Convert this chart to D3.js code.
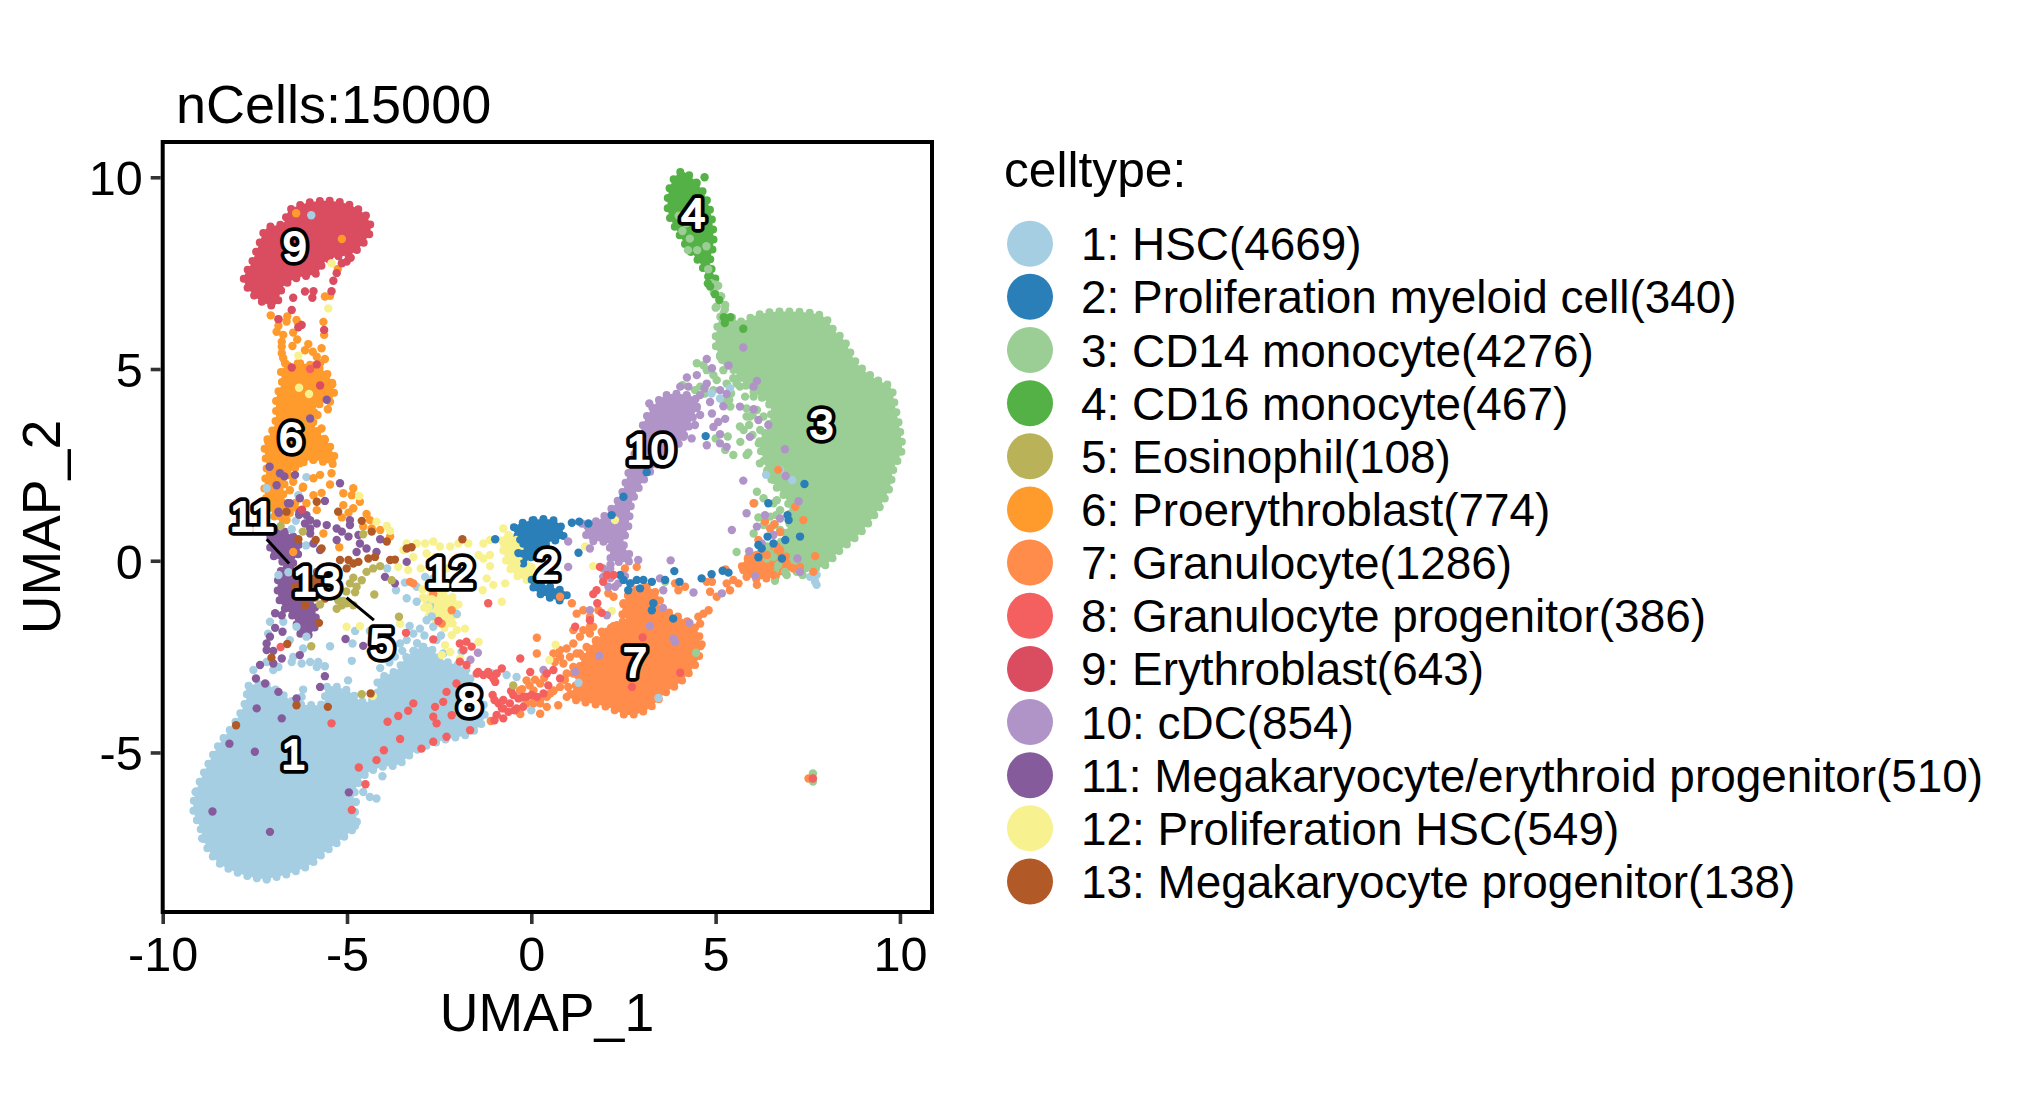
<!DOCTYPE html>
<html><head><meta charset="utf-8">
<script src="https://cdnjs.cloudflare.com/ajax/libs/d3/7.8.5/d3.min.js"></script>
<style>html,body{margin:0;background:#fff}svg{display:block}text{font-family:"Liberation Sans",Arial,sans-serif;fill:#000}</style>
</head><body><svg id="c" width="2028" height="1120"></svg>
<script>
// ---------- categories ----------
const cellNames = ["HSC","Proliferation myeloid cell","CD14 monocyte","CD16 monocyte","Eosinophil","Proerythroblast","Granulocyte","Granulocyte progenitor","Erythroblast","cDC","Megakaryocyte/erythroid progenitor","Proliferation HSC","Megakaryocyte progenitor"];
const cellCounts = [4669,340,4276,467,108,774,1286,386,643,854,510,549,138];
const cellColors = ["#A6CEE3","#2A7FB8","#9ACE95","#54B145","#B9B258","#FF9A2C","#FF8C4B","#F45F60","#DA4C5F","#B094C8","#855B9C","#F8F18F","#B15A28"];
const xTicks = [-10,-5,0,5,10];
const yTicks = [-5,0,5,10];
const xDomain = [-10,10.87];
const yDomain = [-9.16,10.92];

// ---------- dense regions: outlines, in UMAP units ----------
const hscRegion = [[-7.72,-3.29],[-7.18,-3.24],[-6.73,-3.5],[-6.37,-3.72],[-6,-3.76],[-5.64,-3.72],[-5.55,-3.29],[-5.01,-3.37],[-4.56,-3.68],[-4.2,-3.55],[-4.15,-3.11],[-3.65,-2.85],[-3.38,-2.5],[-2.84,-2.24],[-2.39,-2.59],[-1.75,-2.85],[-1.57,-3.37],[-1.3,-3.72],[-1.3,-4.16],[-1.66,-4.5],[-2.39,-4.68],[-3.11,-4.94],[-3.65,-5.33],[-4.01,-5.37],[-4.47,-5.55],[-4.74,-5.9],[-4.83,-6.33],[-4.74,-6.85],[-5.19,-7.29],[-5.64,-7.63],[-6.1,-7.98],[-7.18,-8.29],[-7.63,-8.24],[-8.45,-7.9],[-8.81,-7.46],[-8.99,-6.94],[-9.17,-6.5],[-9.08,-5.98],[-8.76,-5.29],[-8.45,-4.76],[-8,-4.16],[-7.72,-3.55]];
const mono14Region = [[5.03,6.02],[5.21,6.45],[5.66,6.24],[6.12,6.41],[6.75,6.5],[7.92,6.37],[8.2,6.02],[8.47,5.76],[8.83,5.15],[9.37,4.72],[9.73,4.54],[9.87,4.02],[10,3.41],[10.05,2.89],[9.82,2.37],[9.73,1.93],[9.46,1.41],[8.92,.72],[8.38,.28],[7.92,-.15],[7.47,-.2],[6.93,.1],[6.75,.37],[7.02,1.06],[6.93,1.58],[6.57,2.02],[6.3,2.63],[6.2,3.15],[6.39,3.41],[6.48,4.02],[5.84,4.54],[5.48,4.98],[5.03,5.5]];
const mono16Region = [[4.08,10.15],[4.49,9.85],[4.76,9.41],[4.9,8.89],[4.94,8.28],[4.85,7.76],[4.99,7.32],[4.8,7.41],[4.58,7.76],[4.22,8.19],[3.94,8.63],[3.72,9.06],[3.72,9.59],[3.85,9.93]];
const eryRegion = [[-6.59,9.11],[-6.27,9.28],[-5.6,9.39],[-4.92,9.28],[-4.47,8.98],[-4.36,8.63],[-4.56,8.28],[-4.92,7.98],[-5.28,7.93],[-5.64,7.76],[-5.82,7.5],[-6.37,7.37],[-6.73,7.15],[-6.95,6.67],[-7.32,6.76],[-7.72,7.15],[-7.8,7.37],[-7.59,7.76],[-7.41,8.19],[-7.18,8.67],[-6.73,8.8]];
const proeryRegion = [[-6.77,4.98],[-6.27,5.15],[-5.55,4.89],[-5.37,4.28],[-5.82,4.02],[-5.91,3.59],[-5.46,2.98],[-5.33,2.54],[-6,2.63],[-6.55,2.28],[-6.73,1.76],[-6.55,1.24],[-6.86,1.06],[-7.23,1.76],[-7.18,2.45],[-7.23,2.98],[-6.95,3.59],[-6.91,4.28],[-6.77,4.63]];
const mkepRegion = [[-7,.8],[-6.46,.63],[-6.28,.28],[-6.46,-.07],[-6.1,-.68],[-5.87,-1.2],[-5.91,-1.81],[-6.19,-1.98],[-6.46,-1.46],[-6.73,-1.2],[-6.86,-.94],[-6.86,-.42],[-6.73,-.07],[-7.05,.19]];
const mkpRegion = [[-5.91,-.33],[-5.46,-.33],[-5.46,-.94],[-5.91,-.94]];
const profMyeUpper = [[-.49,.84],[.06,1.06],[.69,1.02],[.87,.63],[.42,.45],[.06,.15],[-.22,-.07],[-.22,.45]];
const profMyeLower = [[-.03,-.5],[.51,-.68],[.96,-.85],[.87,-1.03],[.42,-.94],[.15,-.81]];
const profHscNear2 = [[-.76,.63],[-.3,.55],[-.05,.02],[.05,-.5],[-.35,-.42],[-.65,-.08]];
const profHscLower = [[-2.93,-.94],[-2.39,-.85],[-1.98,-1.11],[-2.21,-1.72],[-2.48,-1.72],[-2.84,-1.37]];
const cdcRegion = [[3.13,3.76],[3.67,4.32],[4.49,4.19],[4.31,3.58],[3.94,2.98],[3.31,2.41],[2.99,2.02],[2.72,1.5],[2.63,.89],[2.5,.45],[2.72,.02],[2.18,.02],[2.09,.45],[1.59,.54],[1.46,.84],[1.96,1.15],[2.41,1.67],[2.63,2.28],[2.86,2.98]];
const granRegion = [[1.41,-2.5],[2.23,-1.7],[2.77,-1.5],[3.31,-1.25],[3.85,-1.4],[4.49,-1.8],[4.55,-2.5],[4.1,-3.11],[3.62,-3.46],[3.13,-3.89],[2.59,-4.02],[2.05,-3.81],[1.41,-3.68],[1.05,-3.55],[1.23,-3.2]];
const granUpper = [[2.59,-.94],[3.13,-.68],[3.49,-1.02],[3.22,-1.46],[2.5,-1.46]];
const granNearMono = [[5.71,-.11],[6.2,.19],[6.75,.28],[7.02,-.24],[6.57,-.42],[6.03,-.46]];

// ---------- individual cells outside or on top of dense regions, in UMAP units ----------
const hscCells = [[-6.1,2.18],[-6.32,1.71],[-7.18,1.89],[-6.39,1.04],[-6.5,.82],[-6.11,.4],[-6.59,-.3],[-6.86,-.37],[-7.09,-1.59],[-7.14,-1.9],[-6.73,-1.59],[-6.37,-1.72],[-6.1,-1.98],[-6.55,-2.07],[-6.19,-2.29],[-6.46,-2.51],[-6.5,-2.64],[-6.23,-2.68],[-6.86,-2.77],[-7.18,-2.64],[-7.54,-2.85],[-7,-2.85],[-6,-2.64],[-5.78,-2.64],[-5.82,-2.77],[-5.6,-2.75],[-5.46,-2.23],[-4.97,-3.12],[-4.87,-2.61],[-4.78,-1.83],[-4.85,-2.16],[-4.38,-1.83],[-6.19,-3.36],[-6.23,-3.55],[-3.67,-.77],[-3.91,-.2],[-3.43,-.57],[-3.38,-.98],[-3.11,-1.07],[-2.75,-1.16],[-2.66,-.46],[-2.88,-.42],[-3.11,-.68],[-2.02,-1.39],[-1.89,-2.37],[-1.07,-2.94],[-.67,-2.98],[-.4,-3.03],[-.17,-3.72],[0,-3.9],[-3.2,-1.9],[-3.38,-2.07],[-2.84,-1.55],[-3.02,-1.77],[-2.66,-1.72],[-2.57,-2.07],[-3.56,-2.16],[-2.39,-2.42],[-2.9,-1.95],[-3.1,-2.15],[-3.3,-1.7],[-2.7,-1.45],[-2.45,-1.95],[-3.5,-2.35],[-3.2,-2.35],[-2.95,-2.25],[-3.7,-2.5],[-4.1,-2.8],[-3.85,-2.65],[-9.11,-6.03],[-8.93,-7.24],[-7.18,-8.31],[-4.78,-6.91],[-4.04,-5.62],[-4.2,-6.2],[-4.38,-6.16],[-4.56,-6.03],[-4.76,-6.29],[6.37,2.24],[7.08,2.1],[6.75,2.37],[4.89,4.36],[5.39,4.5],[5.12,4.23],[1.28,-3.18],[3.45,-3.58],[7.56,-.42],[7.74,-.37],[7.7,-.55],[7.74,-.63],[-5.97,9.01]];
const proMyeCells = [[1.1,.99],[1.3,1.02],[1.55,.97],[1.28,.21],[2.5,1.67],[2.18,1.19],[3.13,2.31],[2.41,-.37],[2.5,-.5],[2.68,-.59],[2.86,-.5],[3.04,-.5],[3.27,-.55],[3.63,-.5],[2.63,-.77],[2.95,-.72],[3.31,-1.11],[3.27,-1.29],[3.85,-1.51],[3.88,-.27],[4.02,-.55],[4.62,-.46],[4.89,-.35],[5.19,-.26],[5.35,-.31],[6.43,1.5],[6.95,1.19],[6.98,1.06],[7.29,.63],[6.89,.54],[6.41,.63],[6.57,.45],[6.16,.41],[6.25,.32],[6.8,.06],[6.16,.09],[7.41,2],[4.73,3.25],[-.98,.56],[-.35,.2],[-.3,.55]];
const mono14Cells = [[4.94,4.84],[4.67,5.1],[5.17,5.24],[4.58,4.54],[5.03,4.71],[4.1,4.58],[4.44,4.45],[4.71,4.36],[5.48,4.76],[5.66,4.54],[5.8,4.28],[5.37,4.19],[5.4,4.02],[5.84,3.97],[6,3.8],[5.66,3.5],[5.91,3.54],[5.93,3.76],[6.3,3.76],[5.33,3.24],[5,3.19],[5.67,3.1],[6,3.28],[6.17,3.06],[5.42,4.36],[5.26,2.89],[5.48,2.76],[5.89,2.82],[6.12,1.8],[6.3,1.63],[6.05,1.5],[6.57,1.5],[6.16,1.13],[6.64,1.19],[6.3,.93],[6.03,.71],[5.57,.23],[6.48,.19],[6.39,.06],[6.61,-.24],[6.88,-.29],[6.61,-.52],[6.93,-.37],[7.36,-.37],[3.63,-.55],[4.47,-2.4],[7.64,-5.55],[7.64,-5.76],[4.0,9.0],[4.2,8.8],[4.1,8.6],[4.3,8.4],[4.25,8.1],[4.5,8.1],[4.75,8.2],[4.8,7.6],[5,7.2],[4.95,7],[5.15,6.9],[5,6.6],[5.25,6.55],[4.89,7.23],[5.07,7.17],[4.99,6.97],[5.03,6.63],[5.26,6.67],[5.12,5.32],[5.3,5.41],[5.57,5.15],[5.66,4.8],[4.49,5.15],[4.76,4.97],[5.21,4.97],[5.3,4.62],[4.94,4.45],[5.21,4.19],[5.57,4.62],[6.03,4.28],[6.12,3.93],[5.84,3.76],[5.76,3.41],[6.21,3.41],[6.48,3.06],[5.84,2.76],[6.39,2.28],[6.57,2.11],[6.2,2.54],[6.3,2.89],[6.66,1.58],[6.75,1.32],[6.48,1.15],[6.57,.93],[6.75,.8],[6.39,.37],[6.57,.1],[6.7,-.11],[7.11,.02],[7.2,-.29]];
const mono16Cells = [[4.85,7.15],[4.79,7.23],[4.98,6.95],[5.1,6.8],[5.22,6.35],[5.25,6.2],[5.75,6.05],[5.4,6.35],[4.7,10.0]];
const eosCells = [[-6.8,.91],[-6.2,.76],[-5.73,-1.14],[-4.26,-.88],[-3.59,-1.46],[-5.97,-2.23],[-4.6,-3.48],[-3.79,-.51],[-4.56,.69],[-.49,-3.25],[-5.28,-1.25],[-5.14,-1.16],[-5.01,-1.11],[-4.83,-1.16],[-5.24,-1.03],[-5.1,-1.05],[-4.92,-.59],[-4.74,-.68],[-4.6,-.51],[-4.83,-.44],[-4.47,-.29],[-4.29,-.2],[-4.1,-.14],[-5.02,-.8],[-4.78,-.82]];
const proeryCells = [[-7.07,6.4],[-6.86,6.3],[-6.62,6.37],[-6.64,6.24],[-6.37,6.28],[-6.32,6.19],[-6.86,6.13],[-6.91,5.97],[-6.73,5.89],[-6.46,5.95],[-6.35,5.77],[-6.77,5.71],[-6.77,5.58],[-6.48,5.6],[-6.05,5.65],[-6.14,5.49],[-5.93,5.45],[-5.69,5.54],[-6.77,5.41],[-6.73,5.28],[-5.82,5.32],[-5.6,5.26],[-5.73,5.15],[-6.68,5.15],[-5.6,6.89],[-5.46,6.91],[-5.64,6.23],[-5.62,5.89],[-6.38,9.06],[-5.14,8.39],[-5.25,7.61],[-5.4,4.6],[-5.46,4.15],[-5.52,3.95],[-5.8,3.8],[-5.69,3.45],[-5.82,3.3],[-5.6,3.15],[-7.14,3.1],[-6.98,3.35],[-5.91,2.15],[-5.46,1.99],[-5.69,1.77],[-5.1,1.76],[-4.83,1.89],[-4.87,1.71],[-4.65,1.54],[-5.1,1.45],[-4.83,1.37],[-4.96,1.25],[-5.14,1.13],[-4.47,1.22],[-4.38,1.06],[-4.56,.89],[-4.33,.84],[-4.1,.8],[-3.83,.63],[-5.91,1.71],[-5.82,1.32],[-5.21,.35],[-6.46,.23],[-5.64,.71],[-6.2,1.9],[-6.1,1.5],[-6.25,1.25],[-6,2.89],[-5.64,2.8],[-5.42,2.63],[-5.91,2.63],[-6.28,2.54],[-5.42,2.28],[-5.73,2.24],[-6.46,2.06],[-6.55,1.84],[-6.19,1.93],[-6.41,1.5],[-6.32,1.32],[-6.73,1.19],[-6.64,1.06],[-6.46,1.41]];
const granCells = [[.24,-3.99],[.42,-3.81],[.73,-3.77],[.51,-3.46],[1,-3.29],[.91,-3.11],[.78,-2.33],[.96,-2.29],[1.14,-2.16],[1.32,-1.98],[1.23,-1.38],[1.41,-1.29],[1.59,-1.46],[1.82,-1.29],[2.09,-.85],[2.23,-.94],[2.54,-.2],[2.86,-.16],[3.9,-.59],[3.99,-.77],[4.17,-.68],[4.76,-.55],[4.9,-.55],[4.85,-.81],[5.03,-.94],[5.39,-.77],[5.3,-.59],[5.48,-.5],[5.62,-.59],[5.27,-.23],[6.12,-.63],[4.81,-1.29],[4.67,-1.38],[4.53,-1.46],[4.58,-1.64],[4.62,-2.18],[6.03,1.5],[1.1,-1.11],[.78,-.94],[1.68,-1.72],[2.05,-1.85],[1.59,-1.9],[1.32,-2.42],[1.14,-2.77],[7.65,-.29],[7.7,.12],[.15,-2.01],[.15,-2.42],[-3.2,-.59],[-2.66,-.87],[-2.16,-1.29],[-2.43,-1.64],[-3.29,-.55],[.6,-3.4],[.25,-3.6],[.05,-3.7],[-.25,-3.35],[.1,-3.1],[.35,-3.05],[-.05,-3.25],[-.3,-4.0],[-1.1,-4.18],[7.52,-5.68],[6.75,.75],[6.6,.95],[5.95,.15],[5.85,-.3],[.6,-2.42],[.78,-2.51],[1.05,-2.51],[1.23,-2.42],[.87,-2.68],[.64,-2.64],[1.14,-2.94],[1.32,-2.77],[.96,-2.94],[.78,-3.29],[.96,-3.55],[.6,-3.38],[.42,-3.55],[.24,-3.72],[.06,-3.72],[-.13,-3.72],[.06,-3.38],[-.13,-3.55],[-.31,-3.38],[-.13,-3.12],[.24,-3.2],[1.5,-2.25],[1.77,-2.07],[1.41,-1.81],[1.59,-1.72],[1.14,-1.81],[1.91,-1.85],[2.32,-1.68],[2.5,-1.11],[2.61,-1.37],[2.95,-1.55],[5.75,-.24],[5.89,.1],[6.03,-.16],[5.84,-.42],[6.39,.15],[6.48,-.2],[6.57,-.37],[6.93,-.07],[7.11,-.2],[7.29,-.16],[6.75,.28],[6.88,.06],[6.66,.37],[6.34,1.02],[6.48,.84],[6.16,.54],[6.7,2.37],[7.16,1.41],[7.38,1.06]];
const gpCells = [[-5.42,-4.24],[-4,-4.94],[-4.68,-5.39],[-4.5,-5.83],[-4.87,-6.5],[-4.2,-5.2],[-3.9,-4.2],[-3.61,-4.05],[-3.34,-3.91],[-3.56,-4.65],[-3.2,-3.72],[-2.66,-4.07],[-2.57,-4.24],[-2.66,-4.72],[-2.3,-4.59],[-2.39,-3.68],[-2.3,-3.42],[-2.16,-4.03],[-2.03,-3.2],[-1.66,-4.42],[-2.61,-3.81],[-2.98,-4.9],[-2.66,-2.05],[-6.8,-2.25],[-3.4,-1.88],[-1.17,-1.11],[-2.52,-1.57],[-1.94,-2.16],[-1.76,-2.11],[-1.62,-2.24],[-1.84,-2.33],[-1.94,-2.63],[-1.76,-2.72],[-1.44,-2.9],[-1.3,-2.98],[-1.12,-2.98],[-.94,-2.94],[-.8,-2.81],[-.98,-3.16],[-.89,-3.72],[-.76,-3.63],[-.58,-3.72],[-.94,-4.02],[-.76,-4.11],[-.62,-3.94],[-.35,-3.59],[-.13,-3.55],[-.22,-3.81],[-.03,-2.9],[-.3,-2.55],[.15,-3.55],[.6,-2.85],[.42,-2.94],[.78,-3.07],[.46,-3.25],[.33,-3.46],[1.77,-.77],[1.68,-.87],[1.79,-1.11],[1.59,-1.55],[1.19,-1.72],[1.91,-1.36],[2.05,-.37],[2.23,-.37],[1.95,-.55],[1.86,-.16],[3.02,-2],[4.04,-2.92],[2.73,-3.29],[7.64,-5.68],[-6.0,5.0],[-1.05,-3.5],[-.45,-3.9],[-.55,-3.4],[-1.48,-2.94],[-.8,-3.85],[-.49,-3.5],[-.76,-3.85],[-.4,-3.85],[-1,-3.63],[-1,-4.16],[-1.17,-2.9],[-1.03,-3.07],[-.22,-3.55],[.01,-3.5]];
const eryCells = [[-6.46,6.86],[-6.5,6.54],[-6.86,6.3],[-6.23,6.15],[-6.32,6.09],[-5.62,6.02],[-5.94,6.86],[-6.14,7.02],[-5.91,7.03],[-5.42,7.03],[-5.37,7.3],[-6.5,5.04],[-5.82,5.12],[-5.73,4.57],[-5.14,7.76],[-5.01,7.8],[-5.28,7.5],[-6.22,1.33],[-4.9,7.9]];
const cdcCells = [[1,.5],[1,-.16],[1.37,.97],[1.59,.32],[1.95,-.42],[2.14,-.2],[2.27,-.68],[2.09,-.68],[2.36,-.59],[2.54,-.4],[2.9,.02],[2.7,-.59],[3.49,-.46],[3.58,-.77],[3.57,-1.23],[4.4,-.83],[5.17,-.85],[3.78,.01],[5.44,.8],[5.84,1.24],[5.75,2.09],[6.34,1.19],[6.12,.89],[5.91,.25],[7.25,1.55],[6.88,2.91],[6.9,2.21],[6.75,1.1],[6.57,.67],[6.25,.45],[7.22,.06],[6.07,-.4],[7.29,-.29],[4.29,-1.62],[3.9,-2.12],[3.85,-2.03],[1.84,-2.48],[1.59,-1.29],[2.05,-1.42],[3.22,-1.7],[.33,-2.85],[1.19,-2.9],[5.75,5.56],[4.76,5.26],[5.35,5.09],[4.9,5.02],[4.22,4.78],[4.49,4.84],[4.76,4.62],[4.58,4.32],[4.04,4.54],[4.26,4.54],[6.12,4.69],[6.03,4.54],[5.3,4.35],[5.12,4.45],[5.66,4.02],[6.03,3.95],[5.21,4.03],[4.9,3.84],[4.58,3.8],[5.26,3.7],[5.07,3.62],[4.94,3.49],[5.12,3.3],[4.44,3.54],[4.35,3.19],[4.76,3.01],[5.12,3.06],[5.3,2.97],[6.43,3.54],[6.16,3.67],[5.93,3.23],[4.85,4.14],[4.4,4.0],[4.2,4.2],[4.7,4.5],[2.15,-.1],[1.95,-.2],[2.15,-.45],[-1.45,-2.4],[-1.65,-2.58],[4.22,4.28],[4.49,4.02],[4.22,3.75],[4.04,3.5],[4.13,3.23],[3.2,4.1]];
const mkepCells = [[-5.55,4.2],[-6,3.71],[-5.6,1.56],[-5.19,2.02],[-6,1.06],[-5.82,.97],[-5.55,.93],[-4.92,1.06],[-4.92,.93],[-5.28,.84],[-5.14,.76],[-4.96,.63],[-5.28,.54],[-4.69,.67],[-4.65,.45],[-4.1,.56],[-4.74,.23],[-4.47,.32],[-4.2,.23],[-3.97,-.42],[-3.7,-.59],[-3.38,-.03],[-6,.71],[-5.91,.45],[-5.73,.28],[-6.95,-1.37],[-6.77,-1.42],[-7.09,-1.98],[-7.18,-2.16],[-7.18,-2.33],[-6.77,-2.55],[-7,-2.68],[-7.36,-2.72],[-7.47,-3.07],[-7.22,-3.2],[-6.86,-3.42],[-6.37,-3.59],[-7.45,-3.85],[-5.73,-3.29],[-5.6,-3.01],[-5.04,-2.04],[-4.56,-2.22],[-6.28,-2.46],[-8.19,-4.77],[-8.65,-6.54],[-4.95,-6.04],[-7.5,-4.98],[-6.77,-4.11],[-7.09,-7.07],[-6.95,-1.75],[-6.75,-1.85],[-7.0,-2.35],[-6.3,-1.3],[-6.55,1.5],[-6.3,1.2],[-6.85,1.25],[-7.1,2.45],[-6.7,2.2],[-6.82,2.28],[-6.41,2.24],[-6.91,1.97],[-6.28,1.63],[-6.6,1.5],[-6.86,1.28],[-6.28,1.28],[-6.1,1.19],[-6.14,.97],[-6,.84]];
const phscCells = [[-5.42,7.76],[-5.51,6.58],[-6.32,5.35],[-6.3,4.51],[-6.03,4.35],[1.46,.37],[1.68,-.14],[2.18,-1.31],[.66,-2.19],[.49,-2.59],[2.27,1.06],[-4.67,1.69],[-4.2,1.02],[-3.92,.91],[-3.83,.78],[-3.38,.45],[-3.11,.45],[-2.88,.45],[-2.66,.5],[-3.47,.28],[-3.2,.1],[-3.61,-.16],[-3.34,-.24],[-2.84,.19],[-2.48,.37],[-2.2,.37],[-1.98,.45],[-1.71,.45],[-1.43,.15],[-1.3,.06],[-1.12,.15],[-1.3,.45],[-1.12,.54],[-.76,.84],[-.62,.67],[-.4,.54],[-.4,-.07],[-.26,-.33],[-1.12,-.14],[-1.21,-.46],[-1.03,-.63],[-.71,-.59],[-.8,-1.07],[-1.32,-.77],[-5.01,-1.72],[-4.65,-1.71],[-3.56,-1.64],[-4.3,-3.53],[-2.02,-1.81],[-1.8,-1.77],[-2.16,-1.94],[-2.34,-2.2],[-2.2,-2.38],[-1.93,-2.55],[-1.43,-2.12],[-1.12,-2.98],[-2.43,-2.46],[-2.79,-1.2],[-2.3,-.2],[-2,.1],[-1.7,-.1],[-2.95,-.75],[-3,-.2],[-2.6,.1],[-2.05,-.55],[-2.7,-1],[-.55,.3],[-.75,.45]];
const mkpCells = [[-5.19,.02],[-4.96,.02],[-5.01,-.2],[-4.83,-.07],[-4.69,-.03],[-4.42,.06],[-4.24,.1],[-3.83,.02],[-3.7,.03],[-3.38,.32],[-3.25,.35],[-3.92,.5],[-4.33,.76],[-4.6,1.04],[-5.24,1.28],[-5.82,1.54],[-6.32,.56],[-5.85,.54],[-5.69,.32],[-5.76,-1.62],[-6.62,-2.17],[-6.37,-3.77],[-5.52,-3.81],[-4.36,-3.46],[-8.01,-4.29],[-7.05,-2.53],[-1.87,.56],[-6.14,-1.16],[-6.41,-.68],[-6.64,1.28]];

// ---------- cluster labels and repel segments, in UMAP units ----------
const labelIds = [1,2,3,4,5,6,7,8,9,10,11,12,13];
const labelX = [-6.45,.43,7.87,4.39,-4.06,-6.52,2.81,-1.68,-6.42,3.24,-7.57,-2.2,-5.82];
const labelY = [-5.04,-.08,3.56,9.06,-2.14,3.22,-2.65,-3.66,8.22,2.92,1.16,-.29,-.52];
const repelSegments = [[[-7.18,.56],[-6.57,-.07]],[[-5.01,-.96],[-4.27,-1.55]]];

// ---------- drawing ----------
const svg = d3.select("#c");
const x = d3.scaleLinear().domain(xDomain).range([162.7,932]);
const y = d3.scaleLinear().domain(yDomain).range([912,142]);

const regionLine = d3.line().x(d=>x(d[0])).y(d=>y(d[1])).curve(d3.curveCatmullRomClosed.alpha(.5));
const regionLayers = [
  [hscRegion,0],[mono14Region,2],[mono16Region,3],[proeryRegion,5],[mkepRegion,10],[mkpRegion,12],
  [eryRegion,8],[cdcRegion,9],[granRegion,6],[granUpper,6],[granNearMono,6],
  [profHscNear2,11],[profHscLower,11],[profMyeUpper,1],[profMyeLower,1]
];
const gRegions = svg.append("g");
gRegions.selectAll("path").data(regionLayers).join("path")
  .attr("d",d=>regionLine(d[0]))
  .attr("fill",d=>cellColors[d[1]])
  .attr("stroke",d=>cellColors[d[1]])
  .attr("stroke-width",8)
  .attr("stroke-linecap","round")
  .attr("stroke-dasharray","0 10");

const cellLayers = [
  [mono14Cells,2],[hscCells,0],[proeryCells,5],[granCells,6],[phscCells,11],[mkepCells,10],
  [cdcCells,9],[proMyeCells,1],[gpCells,7],[eryCells,8],[mkpCells,12],[eosCells,4],[mono16Cells,3]
];
const gCells = svg.append("g");
cellLayers.forEach(([pts,i])=>{
  gCells.append("g").selectAll("circle").data(pts).join("circle")
    .attr("cx",d=>x(d[0])).attr("cy",d=>y(d[1])).attr("r",4.2).attr("fill",cellColors[i]);
});

// panel border
svg.append("rect").attr("x",x(xDomain[0])).attr("y",y(yDomain[1]))
  .attr("width",x(xDomain[1])-x(xDomain[0])).attr("height",y(yDomain[0])-y(yDomain[1]))
  .attr("fill","none").attr("stroke","#000").attr("stroke-width",4);

// axes
const xAxis = svg.append("g").attr("transform",`translate(0,${y(yDomain[0])+2})`)
  .call(d3.axisBottom(x).tickValues(xTicks).tickSize(10).tickPadding(12).tickFormat(d3.format("d")));
const yAxis = svg.append("g").attr("transform",`translate(${x(xDomain[0])-2},0)`)
  .call(d3.axisLeft(y).tickValues(yTicks).tickSize(10).tickPadding(8).tickFormat(d3.format("d")));
[xAxis,yAxis].forEach(a=>{
  a.select(".domain").remove();
  a.selectAll("line").attr("stroke","#333").attr("stroke-width",3.6);
  a.selectAll("text").attr("font-size",48.6).style("font-family",'"Liberation Sans"').attr("fill","#000");
});
xAxis.selectAll("text").text(d=>d<0?"-"+Math.abs(d):d);
yAxis.selectAll("text").text(d=>d<0?"-"+Math.abs(d):d).attr("dy","0.36em");

// titles
svg.append("text").attr("x",176).attr("y",123).attr("font-size",54).text("nCells:15000");
svg.append("text").attr("x",547).attr("y",1031).attr("text-anchor","middle").attr("font-size",53.6).text("UMAP_1");
svg.append("text").attr("transform","translate(60,527) rotate(-90)").attr("text-anchor","middle").attr("font-size",53.6).text("UMAP_2");

// repel segments
svg.append("g").selectAll("line").data(repelSegments).join("line")
  .attr("x1",d=>x(d[0][0])).attr("y1",d=>y(d[0][1])).attr("x2",d=>x(d[1][0])).attr("y2",d=>y(d[1][1]))
  .attr("stroke","#000").attr("stroke-width",3);

// cluster labels: black halo then white glyph
const gLab = svg.append("g").attr("text-anchor","middle").attr("font-size",43);
const labelRows = labelIds.map((id,i)=>({id,x:labelX[i],y:labelY[i]}));
gLab.selectAll("text.h").data(labelRows).join("text").attr("class","h")
  .attr("x",d=>x(d.x)).attr("y",d=>y(d.y)+15).text(d=>d.id)
  .style("fill","#000").attr("stroke","#000").attr("stroke-width",9.5).attr("stroke-linejoin","round");
gLab.selectAll("text.w").data(labelRows).join("text").attr("class","w")
  .attr("x",d=>x(d.x)).attr("y",d=>y(d.y)+15).text(d=>d.id)
  .style("fill","#fff").attr("stroke","#fff").attr("stroke-width",2).attr("stroke-linejoin","round");

// legend
svg.append("text").attr("x",1004).attr("y",187).attr("font-size",49.7).text("celltype:");
const rowY = d3.scaleLinear().domain([0,12]).range([243.7,881.5]);
const leg = svg.append("g").selectAll("g").data(cellNames).join("g")
  .attr("transform",(d,i)=>`translate(0,${rowY(i)})`);
leg.append("circle").attr("cx",1030).attr("r",23).attr("fill",(d,i)=>cellColors[i]);
leg.append("text").attr("x",1081).attr("y",16.5).attr("font-size",45.9)
  .text((d,i)=>`${i+1}: ${d}(${cellCounts[i]})`);
</script></body></html>
